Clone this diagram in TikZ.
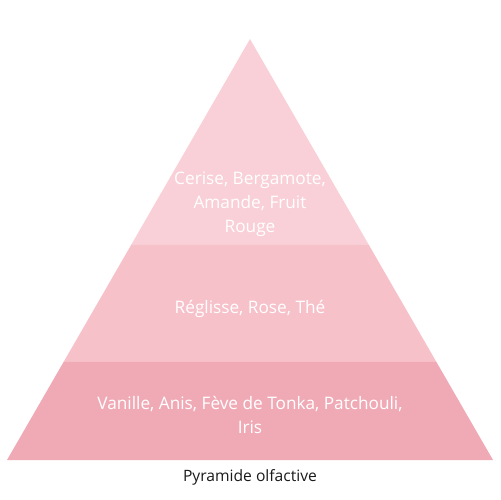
\documentclass[tikz,border=0pt]{standalone}
\usepackage{fontspec}
\setsansfont{Open Sans}
\usepackage{xcolor}
\usepackage{tikz}
\usetikzlibrary{calc, positioning}
\definecolor{toplayer}{HTML}{F9D0D7}
\definecolor{midlayer}{HTML}{F7C1CA}
\definecolor{baselayer}{HTML}{F0AAB6}
\definecolor{captiontext}{HTML}{1A1A1A}

\begin{document}
\begin{tikzpicture}[x=0.02cm, y=-0.02cm,
    every node/.style={font=\sffamily},
    layer/.style={draw=none},
    notetext/.style={
        text=white, align=center,
        font=\fontsize{9.8}{13.6}\selectfont\sffamily,
    },
    caption/.style={
        text=captiontext,
        font=\fontsize{8.9}{11}\selectfont\sffamily,
    },
]
\useasboundingbox (0, 0) rectangle (500, 500);

% ── Pyramid corners ────────────────────────────────────────────────────
\coordinate (apex) at (250, 39);
\coordinate (bl)   at (7, 460);
\coordinate (br)   at (493, 460);
\coordinate (l1) at ($(apex)!0.4893!(bl)$);
\coordinate (r1) at ($(apex)!0.4893!(br)$);
\coordinate (l2) at ($(apex)!0.7672!(bl)$);
\coordinate (r2) at ($(apex)!0.7672!(br)$);

% ── Layers ─────────────────────────────────────────────────────────────
\fill[layer, toplayer]  (apex) -- (r1) -- (l1) -- cycle;
\fill[layer, midlayer]  (l1) -- (r1) -- (r2) -- (l2) -- cycle;
\fill[layer, baselayer] (l2) -- (r2) -- (br) -- (bl) -- cycle;

% ── Notes ──────────────────────────────────────────────────────────────
\node[notetext] (tete) at (250, 204) {Cerise, Bergamote,\\Amande, Fruit\\Rouge};
\node[notetext] (coeur) at (250, 309) {Réglisse, Rose, Thé};
\node[notetext] (fond) at (250, 415) {Vanille, Anis, Fève de Tonka, Patchouli,\\Iris};

% ── Caption ────────────────────────────────────────────────────────────
\node[caption] (title) at (250, 477) {Pyramide olfactive};

\end{tikzpicture}
\end{document}
